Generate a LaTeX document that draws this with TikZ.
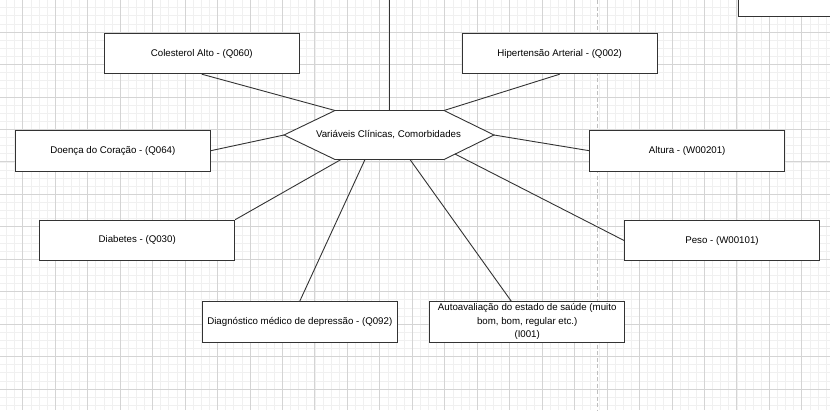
\documentclass[tikz,border=0pt]{standalone}
\usepackage[rgb]{xcolor}
\usepackage{fontspec}
\setmainfont{Liberation Sans}
\usetikzlibrary{calc}

\tikzset{
    var/.style={draw=black!80, line width=0.9pt, fill=white, minimum width=195pt, minimum height=40.5pt, inner sep=0pt, align=center, font=\fontsize{9.7}{13.5}\selectfont},
    link/.style={draw=black!80, line width=0.9pt},
}

\begin{document}
\begin{tikzpicture}[x=1pt, y=-1pt]
                \useasboundingbox (0,0) rectangle (830,410);

                \foreach \k in {-2,...,100} \draw[black!6, line width=0.6pt] ({22.7+8.115*\k},0) -- ({22.7+8.115*\k},410);
                \foreach \k in {0,...,51} \draw[black!6, line width=0.6pt] (0,{-0.5+8.115*\k}) -- (830,{-0.5+8.115*\k});
                \foreach \k in {0,...,25} \draw[black!17, line width=0.7pt] ({22.7+32.46*\k},0) -- ({22.7+32.46*\k},410);
                \foreach \k in {0,...,12} \draw[black!17, line width=0.7pt] (0,{-0.5+32.46*\k}) -- (830,{-0.5+32.46*\k});
                \draw[black!25, line width=0.9pt, dash pattern=on 4pt off 2.5pt] (597.7,0) -- (597.7,410);

                \node[var] (v0) at (835.5,-3.6) {};
                \node[var] (v1) at (201.8,53.5) {Colesterol Alto - (Q060)};
                \node[var] (v2) at (559.7,53.5) {Hipertensão Arterial - (Q002)};
                \node[var] (v3) at (112.8,150.7) {Doença do Coração - (Q064)};
                \node[var] (v4) at (687.2,150.7) {Altura - (W00201)};
                \node[var] (v5) at (137.2,240.4) {Diabetes - (Q030)};
                \node[var] (v6) at (722,240.5) {Peso - (W00101)};
                \node[var] (v7) at (299.8,321.8) {Diagnóstico médico de depressão - (Q092)};
                \node[var] (v8) at (527.2,321.8) {Autoavaliação do estado de saúde (muito\\bom, bom, regular etc.)\\(I001)};

                \draw[link, fill=white] (284,135) coordinate (h1) -- (335,110.5) coordinate (h2)
                    -- (444,110.5) coordinate (h3) -- (494,135) coordinate (h4)
                    -- (444,159.5) coordinate (h5) -- (335,159.5) coordinate (h6) -- cycle;
                \node[font=\fontsize{9.7}{12}\selectfont] (cv) at (388.5,134.5) {Variáveis Clínicas, Comorbidades};

                \coordinate (top) at (389,-5);
                \coordinate (t0) at (389,110.5);
                \coordinate (b5) at (341,159.5);
                \coordinate (b6) at (455,154);
                \coordinate (b7) at (365,159.5);
                \coordinate (b8) at (410,159.5);

                \draw[link] (top) -- (t0);
                \draw[link] (v1.south) -- (h2);
                \draw[link] (v2.south) -- (h3);
                \draw[link] (v3.east) -- (h1);
                \draw[link] (v4.west) -- (h4);
                \draw[link] (v5.north east) -- (b5);
                \draw[link] (v6.west) -- (b6);
                \draw[link] (v7.north) -- (b7);
                \draw[link] ($(v8.north)+(-16,0)$) -- (b8);

\end{tikzpicture}
\end{document}
